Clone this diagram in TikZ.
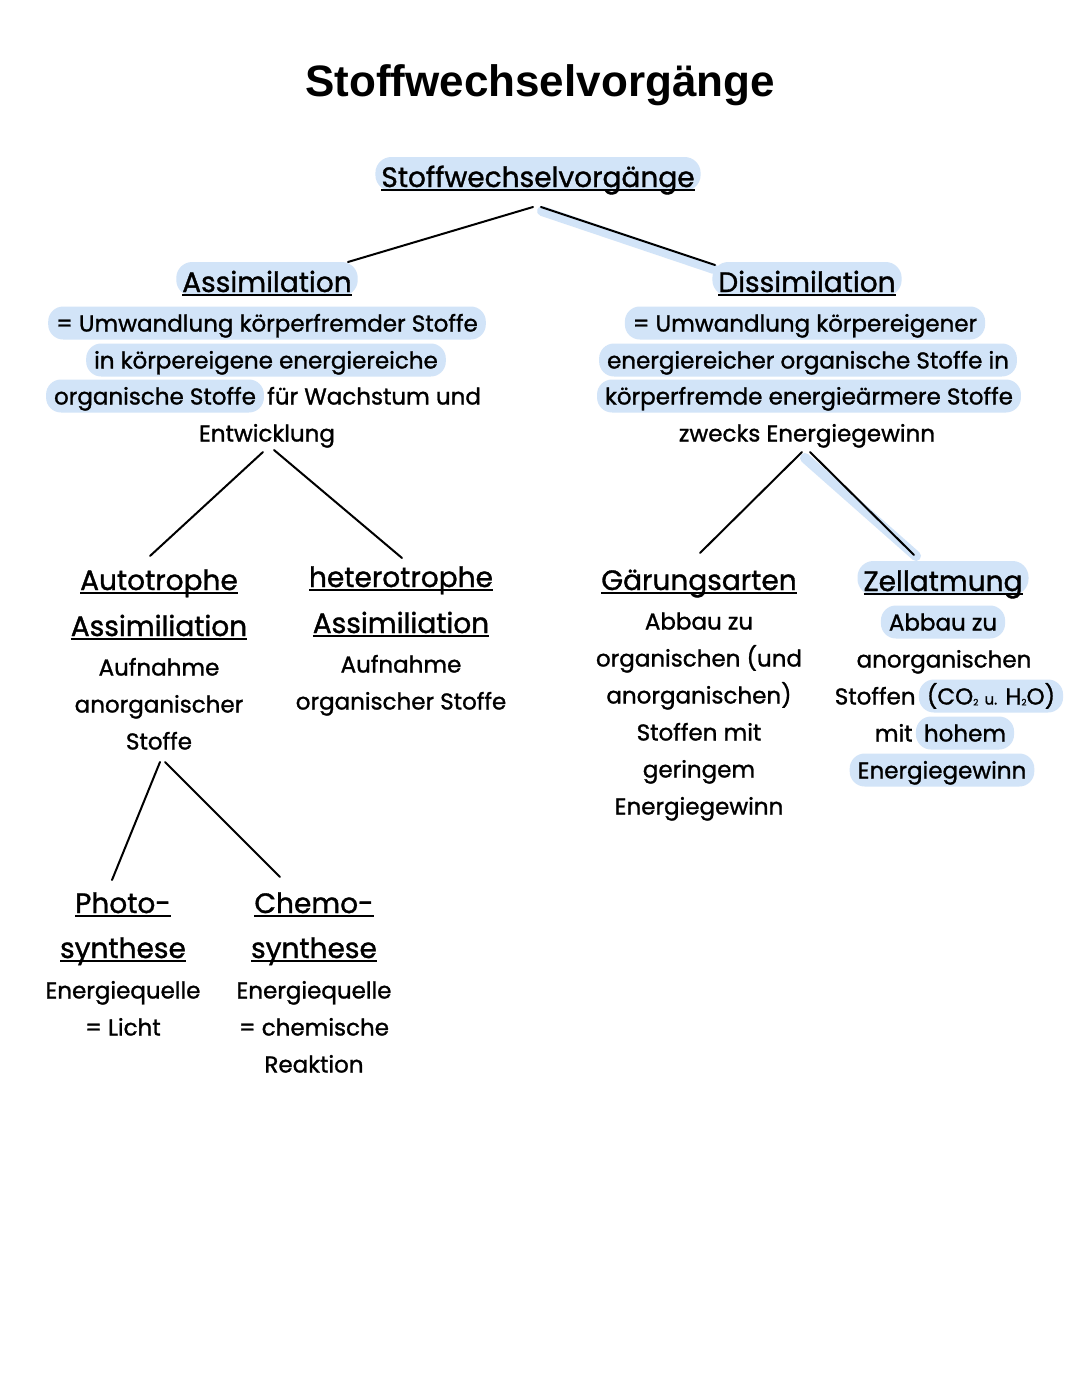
\documentclass[tikz,border=0pt]{standalone}
\usepackage{fontspec}
\setmainfont{Poppins}
\newfontfamily\titlefont{Liberation Sans}
\newfontfamily\bodyfam{Poppins}[FakeBold=1.2]
\definecolor{hlblue}{RGB}{210,228,248}
\newcommand\myul[1]{\setbox0\hbox{#1}\rlap{\rule[-4pt]{\wd0}{1.8pt}}\box0}
\newcommand\subtwo{\raisebox{-1pt}{\fontsize{9pt}{9pt}\selectfont 2}}
\tikzset{
  txt/.style={font=\bodyfam\fontsize{23pt}{27pt}\selectfont, text height=20pt, text depth=3pt, inner ysep=5pt, inner xsep=5pt},
  hl/.style={txt, fill=hlblue, rounded corners=15pt, inner xsep=8pt},
  head/.style={font=\bodyfam\fontsize{28pt}{32pt}\selectfont, text height=27pt, text depth=1pt, inner ysep=3pt, inner xsep=6pt},
  headhl/.style={head, fill=hlblue, rounded corners=16pt},
  conn/.style={line width=2pt, black, line cap=round},
  connhl/.style={line width=10pt, hlblue, line cap=round},
}
\begin{document}
\begin{tikzpicture}[x=1pt,y=-1pt]
\useasboundingbox (0,0) rectangle (1080,1397);
\fill[white] (0,0) rectangle (1080,1397);
% title
\node[font=\titlefont\bfseries\fontsize{44pt}{48pt}\selectfont, anchor=base, inner sep=0pt] (title) at (540,96) {Stoffwechselvorgänge};
% root
\node[headhl] (root) at (538,174) {\myul{Stoffwechselvorgänge}};
% Assimilation
\node[headhl] (assim) at (267,279) {\myul{Assimilation}};
\node[hl] (a1) at (267,323) {= Umwandlung körperfremder Stoffe};
\node[hl] (a2) at (266,360) {in körpereigene energiereiche};
\node[hl] (a3a) at (155,396) {organische Stoffe};
\node[txt, anchor=west] (a3b) at ([xshift=-2pt]a3a.east) {für Wachstum und};
\node[txt] (a4) at (267,433) {Entwicklung};
% Dissimilation
\node[headhl] (dissim) at (807,279) {\myul{Dissimilation}};
\node[hl] (d1) at (805,323) {= Umwandlung körpereigener};
\node[hl] (d2) at (808,360) {energiereicher organische Stoffe in};
\node[hl] (d3) at (809,396) {körperfremde energieärmere Stoffe};
\node[txt] (d4) at (807,433) {zwecks Energiegewinn};
% Autotrophe
\node[head] (au1) at (159,577) {\myul{Autotrophe}};
\node[head] (au2) at (159,623) {\myul{Assimiliation}};
\node[txt] (au3) at (159,667) {Aufnahme};
\node[txt] (au4) at (159,704) {anorganischer};
\node[txt] (au5) at (159,741) {Stoffe};
% heterotrophe
\node[head] (he1) at (401,574) {\myul{heterotrophe}};
\node[head] (he2) at (401,620) {\myul{Assimiliation}};
\node[txt] (he3) at (401,664) {Aufnahme};
\node[txt] (he4) at (401,701) {organischer Stoffe};
% Gaerungsarten
\node[head] (g1) at (699,577) {\myul{Gärungsarten}};
\node[txt] (g2) at (699,621) {Abbau zu};
\node[txt] (g3) at (699,658) {organischen (und};
\node[txt] (g4) at (699,695) {anorganischen)};
\node[txt] (g5) at (699,732) {Stoffen mit};
\node[txt] (g6) at (699,769) {geringem};
\node[txt] (g7) at (699,806) {Energiegewinn};
% Zellatmung
\node[headhl] (z1) at (943,578) {\myul{Zellatmung}};
\node[hl] (z2) at (943,622) {Abbau zu};
\node[txt] (z3) at (944,659) {anorganischen};
\node[hl] (z4b) at (991,696) {(CO\subtwo{} {\fontsize{15pt}{15pt}\selectfont u.} H\subtwo O)};
\node[txt, anchor=east] (z4a) at ([xshift=2pt]z4b.west) {Stoffen};
\node[hl] (z5b) at (965,733) {hohem};
\node[txt, anchor=east] (z5a) at ([xshift=2pt]z5b.west) {mit};
\node[hl] (z6) at (942,770) {Energiegewinn};
% Photosynthese
\node[head] (p1) at (123,900) {\myul{Photo-}};
\node[head] (p2) at (123,945) {\myul{synthese}};
\node[txt] (p3) at (123,990) {Energiequelle};
\node[txt] (p4) at (123,1027) {= Licht};
% Chemosynthese
\node[head] (c1) at (314,900) {\myul{Chemo-}};
\node[head] (c2) at (314,945) {\myul{synthese}};
\node[txt] (c3) at (314,990) {Energiequelle};
\node[txt] (c4) at (314,1027) {= chemische};
\node[txt] (c5) at (314,1064) {Reaktion};
% connectors
\draw[connhl] ([shift={(4,37)}]root.center) -- ([shift={(-93,-10)}]dissim.center);
\draw[connhl] ([shift={(-2,25)}]d4.center) -- ([shift={(-27,-22)}]z1.center);
\draw[conn] ([shift={(-5,33)}]root.center) -- ([shift={(81,-17)}]assim.center);
\draw[conn] ([shift={(3,33)}]root.center) -- ([shift={(-92,-14)}]dissim.center);
\draw[conn] ([shift={(-4,19)}]a4.center) -- ([shift={(-9,-21)}]au1.center);
\draw[conn] ([shift={(7,17)}]a4.center) -- ([shift={(1,-16)}]he1.center);
\draw[conn] ([shift={(-5,19)}]d4.center) -- ([shift={(1,-24)}]g1.center);
\draw[conn] ([shift={(3,19)}]d4.center) -- ([shift={(-29,-23)}]z1.center);
\draw[conn] ([shift={(1,21)}]au5.center) -- ([shift={(-11,-20)}]p1.center);
\draw[conn] ([shift={(6,21)}]au5.center) -- ([shift={(-34,-23)}]c1.center);
\end{tikzpicture}
\end{document}
